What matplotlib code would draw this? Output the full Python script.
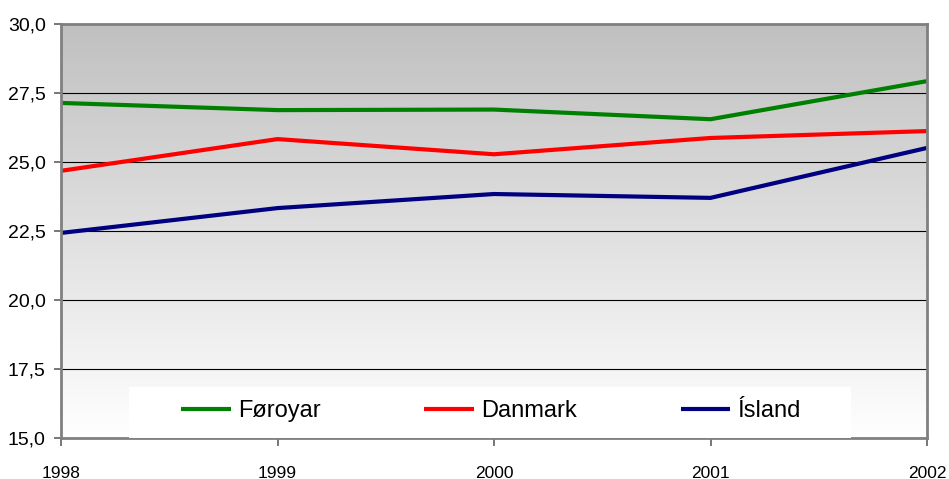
import numpy as np
import matplotlib
matplotlib.use("Agg")
import matplotlib.pyplot as plt
from matplotlib.ticker import FuncFormatter
from matplotlib.patches import Rectangle

plt.rcParams['font.family'] = ['Liberation Sans', 'DejaVu Sans']

years = [1998, 1999, 2000, 2001, 2002]
series_names = ['Føroyar', 'Danmark', 'Ísland']
foroyar = [27.14, 26.88, 26.90, 26.55, 27.93]
danmark = [24.68, 25.83, 25.28, 25.87, 26.12]
island = [22.43, 23.33, 23.84, 23.70, 25.51]
colors = ['#008000', '#ff0000', '#000080']
yticks = [15.0, 17.5, 20.0, 22.5, 25.0, 27.5, 30.0]

fig = plt.figure(figsize=(9.49, 4.79), dpi=100)
ax = fig.add_axes([61 / 949, 41 / 479, 866 / 949, 414 / 479])

# gradient background: grey at top fading to white
grad = np.linspace(0, 1, 256).reshape(-1, 1)
cmap = matplotlib.colors.LinearSegmentedColormap.from_list('bg', ['#ffffff', '#c0c0c0'])
ax.imshow(grad, cmap=cmap, aspect='auto', origin='lower',
          extent=[0, 1, 0, 1], transform=ax.transAxes, zorder=0)

for name, vals, c in zip(series_names, [foroyar, danmark, island], colors):
    ax.plot(years, vals, color=c, lw=3, label=name, zorder=3, solid_capstyle='butt')

ax.set_xlim(years[0], years[-1])
ax.set_ylim(yticks[0], yticks[-1])
ax.set_xticks(years)
ax.set_yticks(yticks)
ax.yaxis.set_major_formatter(FuncFormatter(lambda v, p: f'{v:.1f}'.replace('.', ',')))
ax.grid(axis='y', color='black', lw=0.8, zorder=1)
ax.set_axisbelow(False)

for side in ['left', 'bottom', 'right', 'top']:
    ax.spines[side].set_color('#808080')
    ax.spines[side].set_linewidth(2)
    ax.spines[side].set_zorder(4)

ax.tick_params(axis='y', length=5, width=1.2, color='#606060', pad=6, labelsize=14)
ax.tick_params(axis='x', length=6, width=1.2, color='#606060', pad=14, labelsize=12.5)

# white legend area
ax.add_patch(Rectangle((0.0785, 0.0), 0.834, 0.123, transform=ax.transAxes,
                       facecolor='white', edgecolor='none', zorder=4.5))

leg = ax.legend(loc='center', bbox_to_anchor=(0.4965, 0.065),
                ncol=3, frameon=False, fontsize=17,
                handlelength=2.1, handletextpad=0.3, columnspacing=4.4,
                borderaxespad=0, borderpad=0)
leg.set_zorder(5)

fig.savefig('out.png', dpi=100)
